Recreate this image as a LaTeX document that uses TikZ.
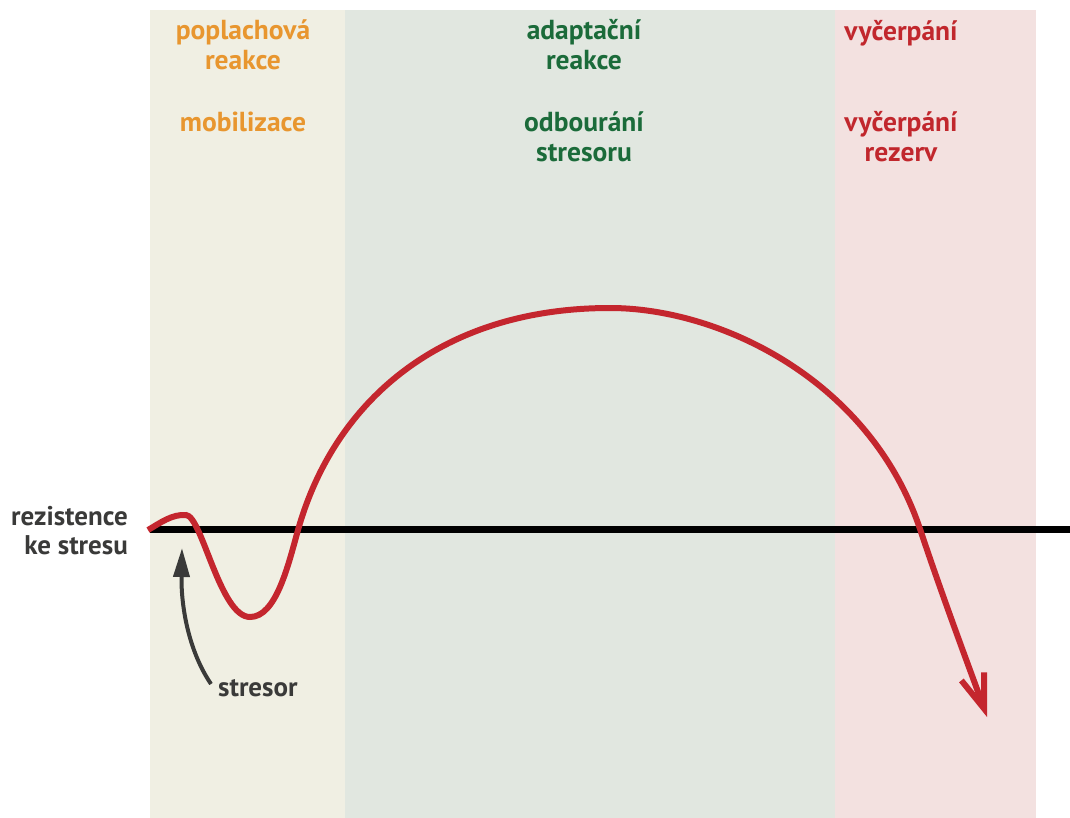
\documentclass[tikz,border=0pt]{standalone}
\usepackage{fontspec}
\setmainfont{PT Sans}
\usetikzlibrary{arrows.meta}
\definecolor{alarmbg}{HTML}{F0EFE3}
\definecolor{adaptbg}{HTML}{E1E7E0}
\definecolor{exhbg}{HTML}{F3E1E0}
\definecolor{orangetxt}{HTML}{E8962F}
\definecolor{greentxt}{HTML}{1B6B3A}
\definecolor{redtxt}{HTML}{C1272D}
\definecolor{curvered}{HTML}{C4262E}
\definecolor{darktxt}{HTML}{3A3A39}
\tikzset{
  phasetxt/.style={font=\bfseries\fontsize{27.5}{30}\selectfont, align=center, inner sep=0pt},
  sidetxt/.style={font=\bfseries\fontsize{27}{29}\selectfont, text=darktxt, inner sep=0pt},
  curvestyle/.style={draw=curvered, line width=6pt},
  baseline/.style={draw=black, line width=7pt},
}
\begin{document}
\begin{tikzpicture}[x=1pt,y=-1pt]
\useasboundingbox (0,0) rectangle (1070,818);
% panels
\fill[alarmbg] (150,10) rectangle (345,818);
\fill[adaptbg] (345,10) rectangle (835,818);
\fill[exhbg] (835,10) rectangle (1036,818);
% headings
\node[phasetxt, text=orangetxt] (p1a) at (243,45) {poplachová\\reakce};
\node[phasetxt, text=orangetxt] (p1b) at (243,122) {mobilizace};
\node[phasetxt, text=greentxt] (p2a) at (584,45) {adaptační\\reakce};
\node[phasetxt, text=greentxt] (p2b) at (584,137) {odbourání\\stresoru};
\node[phasetxt, text=redtxt] (p3a) at (901,33) {vyčerpání};
\node[phasetxt, text=redtxt] (p3b) at (901,137) {vyčerpání\\rezerv};
% baseline
\coordinate (bl) at (150,529);
\coordinate (br) at (1070,529);
\draw[baseline] (bl) -- (br);
% side label
\node[sidetxt, align=right, anchor=east] (res) at (128,531) {rezistence\\ke stresu};
% resistance curve
\coordinate (c0) at (148,530);
\coordinate (c1) at (186,515);
\coordinate (c2) at (250,617);
\coordinate (c3) at (298,530);
\coordinate (c4) at (610,308);
\coordinate (c5) at (920,529);
\coordinate (c6) at (987,717);
\draw[curvestyle, -{Straight Barb[length=34pt, width=24pt, line cap=butt]}]
  (c0) .. controls (160,523) and (172,514) .. (c1)
       .. controls (202,516) and (220,617) .. (c2)
       .. controls (276,617) and (288,566) .. (c3)
       .. controls (334,402) and (440,308) .. (c4)
       .. controls (720,308) and (870,380) .. (c5)
       .. controls (945,604) and (975,683) .. (c6);
% stressor
\node[font=\bfseries\fontsize{27}{30}\selectfont, text=darktxt, anchor=west, inner sep=0pt] (str) at (218,688) {stresor};
\coordinate (stip) at (182,548);
\draw[draw=darktxt, line width=4pt, -{Triangle[length=29pt, width=16pt]}]
  (str.west) ++(-7,-4) .. controls (188,650) and (181,605) .. (stip);
\end{tikzpicture}
\end{document}
